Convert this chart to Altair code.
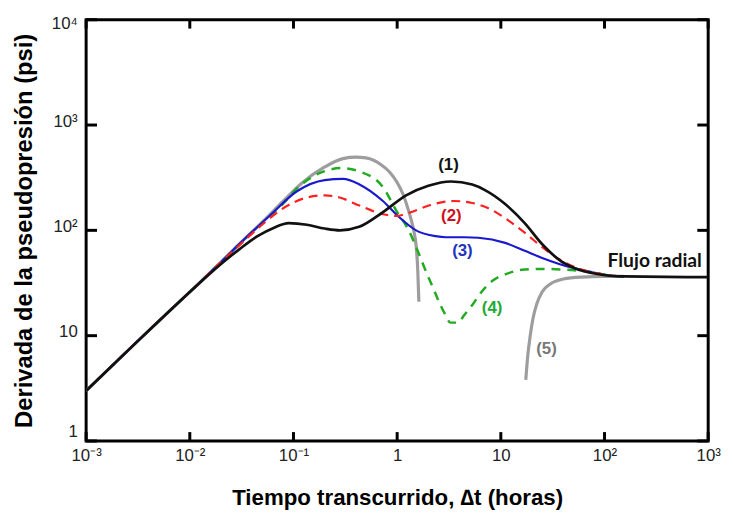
import altair as alt
import pandas as pd

# ---- data ----
black_x = [0.001, 0.003, 0.01, 0.02, 0.03, 0.045, 0.065, 0.09, 0.135, 0.2, 0.28, 0.43, 0.73, 1.22, 2.0, 3.3, 5.3, 7.1, 11, 17, 24.7, 38, 51, 85, 154, 1000]
black_y = [3.0, 8.5, 26, 48, 66, 88, 106, 117, 113, 104, 100, 108, 149, 215, 265, 291, 272, 240, 178, 117, 75, 51, 44, 38.5, 36.5, 35.9]

red_x = [0.001, 0.003, 0.01, 0.02, 0.03, 0.036, 0.0524, 0.0744, 0.135, 0.2, 0.279, 0.433, 0.733, 0.977, 1.3, 2.02, 3.5, 5.3, 7.5, 11.7, 17, 24.7, 38, 51, 85, 154]
red_y = [3.0, 8.5, 26, 50, 72, 85, 118, 155, 205, 215, 205, 172, 142, 137, 147, 172, 190, 182, 163, 125, 95, 70, 52, 45, 39, 36.5]

blue_x = [0.001, 0.003, 0.01, 0.02, 0.03, 0.06, 0.108, 0.2, 0.3, 0.433, 0.733, 1.04, 1.52, 2.35, 2.93, 4.5, 6.06, 11, 17, 24.7, 51, 72, 106, 154]
blue_y = [3.0, 8.5, 26, 50, 74, 140, 235, 300, 308, 273, 189, 134, 100, 88, 86, 86, 85, 76, 64, 55, 43.6, 40.5, 37.5, 36.5]

green_x = [0.001, 0.003, 0.01, 0.02, 0.03, 0.05, 0.08, 0.108, 0.2, 0.29, 0.433, 0.733, 0.977, 1.3, 1.62, 1.89, 2.2, 2.51, 2.9, 3.27, 3.82, 4.5, 5.31, 6.5, 8.24, 11.7, 17, 24.7, 51, 72, 106, 154]
green_y = [3.0, 8.5, 26, 50, 74, 118, 180, 250, 365, 390, 362, 256, 155, 99, 60, 41, 29, 21.4, 16, 13.3, 13.3, 16, 19.6, 26, 33, 39, 42.5, 43, 41.8, 40.5, 37.5, 36.5]

gray_a_x = [0.001, 0.003, 0.01, 0.02, 0.03, 0.05, 0.08, 0.12, 0.2, 0.3, 0.4, 0.5, 0.6, 0.7, 0.84, 1.0, 1.14, 1.26, 1.36, 1.45, 1.52, 1.58, 1.62]
gray_a_y = [3.0, 8.5, 26, 50, 74, 120, 190, 280, 400, 480, 495, 488, 460, 420, 360, 285, 220, 165, 128, 98, 73, 42, 21]

gray_b_x = [17.4, 18.2, 19.2, 20.4, 22.2, 25, 30, 40, 60, 100, 154]
gray_b_y = [3.8, 6.5, 10, 14.5, 20, 26, 31, 34.5, 36, 36.5, 36.5]

label_text = ["(1)", "(2)", "(3)", "(4)", "(5)"]
label_x = [3.13, 3.33, 4.26, 8.24, 27.6]
label_y = [420, 137, 63, 18.4, 7.4]
label_color = ["#111111", "#cc1122", "#2233bb", "#22aa33", "#777777"]

note_text = ["Flujo radial"]
note_x = [305]
note_y = [50.7]

x_decades = [0.001, 0.01, 0.1, 1, 10, 100, 1000]
x_tick_labels = ["10⁻³", "10⁻²", "10⁻¹", "1", "10", "10²", "10³"]
y_decades = [1, 10, 100, 1000, 10000]
y_tick_labels = ["1", "10", "10²", "10³", "10⁴"]

W, H = 629, 426

xs = alt.Scale(type="log", domain=[0.001, 1000], nice=False)
ys = alt.Scale(type="log", domain=[1, 10000], nice=False)

x_label_expr = "[" + ",".join("'%s'" % s for s in x_tick_labels) + "][round(log(datum.value)/LN10)+3]"
y_label_expr = "[" + ",".join("'%s'" % s for s in y_tick_labels) + "][round(log(datum.value)/LN10)]"

x_axis = alt.Axis(values=x_decades, labelExpr=x_label_expr, ticks=False, domain=False, grid=False,
                  title="Tiempo transcurrido, ∆t (horas)", labelFont="Liberation Sans", labelFontSize=17,
                  labelColor="#222222", labelPadding=7, titleFont="Liberation Sans", titleFontSize=22.5,
                  titleFontWeight="bold", titleColor="#000000", titleBaseline="middle", titleY=57,
                  labelFlush=False)
y_axis = alt.Axis(values=y_decades, labelExpr=y_label_expr, ticks=False, domain=False, grid=False,
                  title="Derivada de la pseudopresión (psi)", labelFont="Liberation Sans", labelFontSize=17,
                  labelColor="#222222", labelPadding=9,
                  labelOffset={"condition": {"test": "datum.value <= 1", "value": -10}, "value": -4},
                  labelBaseline={"condition": {"test": "datum.value >= 10000", "value": "top"}, "value": "middle"},
                  titleFont="Liberation Sans",
                  titleFontSize=24, titleFontWeight="bold", titleColor="#000000", titleBaseline="middle",
                  titleX=-62, labelFlush=False)


def X(field):
    return alt.X(field, scale=xs, axis=x_axis)


def Y(field):
    return alt.Y(field, scale=ys, axis=y_axis)


def line_layer(xv, yv, color, width, dash=None):
    kw = dict(color=color, strokeWidth=width, interpolate="monotone", clip=True)
    if dash:
        kw["strokeDash"] = dash
    df = pd.DataFrame({"x": xv, "y": yv})
    return alt.Chart(df).mark_line(**kw).encode(x=X("x:Q"), y=Y("y:Q"))


layers = [
    line_layer(gray_a_x, gray_a_y, "#9d9d9d", 3.2),
    line_layer(gray_b_x, gray_b_y, "#9d9d9d", 3.2),
    line_layer(green_x, green_y, "#22aa22", 2.5, dash=[9, 7]),
    line_layer(blue_x, blue_y, "#1a1acc", 2.2),
    line_layer(red_x, red_y, "#ff2020", 2.2, dash=[9, 6]),
    line_layer(black_x, black_y, "#111111", 2.7),
]

# inward decade ticks on four sides
xt = pd.DataFrame({"x": x_decades})
yt = pd.DataFrame({"y": y_decades})
tick_style = dict(color="#000000", strokeWidth=3)
layers += [
    alt.Chart(xt).mark_rule(**tick_style).encode(x=X("x:Q"), y=alt.value(H), y2=alt.value(H - 9)),
    alt.Chart(xt).mark_rule(**tick_style).encode(x=X("x:Q"), y=alt.value(0), y2=alt.value(9)),
    alt.Chart(yt).mark_rule(**tick_style).encode(y=Y("y:Q"), x=alt.value(0), x2=alt.value(11)),
    alt.Chart(yt).mark_rule(**tick_style).encode(y=Y("y:Q"), x=alt.value(W), x2=alt.value(W - 11)),
]

lab_df = pd.DataFrame({"x": label_x, "y": label_y, "t": label_text, "c": label_color})
layers.append(
    alt.Chart(lab_df).mark_text(font="Liberation Sans", fontSize=17, fontWeight="bold", align="center", baseline="middle").encode(
        x=X("x:Q"), y=Y("y:Q"), text="t:N", color=alt.Color("c:N", scale=None))
)
note_df = pd.DataFrame({"x": note_x, "y": note_y, "t": note_text})
layers.append(
    alt.Chart(note_df).mark_text(font="Lato", fontSize=19.5, fontWeight="bold", align="center", baseline="middle", color="#111111").encode(
        x=X("x:Q"), y=Y("y:Q"), text="t:N")
)

chart = alt.layer(*layers).properties(
    width=W, height=H,
    padding={"left": 79, "top": 9, "right": 17, "bottom": 72},
    autosize=alt.AutoSizeParams(type="none"),
    background="#ffffff",
).configure_view(stroke="#000000", strokeWidth=3)

chart.save("out.html", embed_options={"renderer": "svg", "actions": False})
